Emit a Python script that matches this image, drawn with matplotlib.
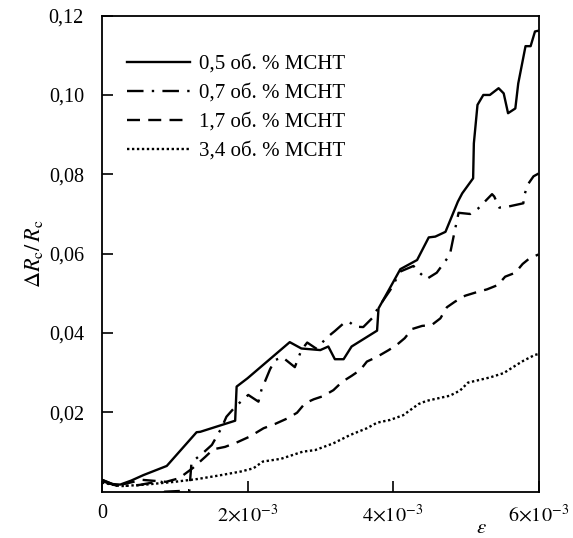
import matplotlib.pyplot as plt
import numpy as np

plt.rcParams['font.family'] = ['Liberation Serif', 'DejaVu Serif']
plt.rcParams['mathtext.fontset'] = 'stix'

# strain values (x 1e-3) and relative resistance change (x 1e-3)
eps_05 = [0, 0.1, 0.25, 0.4, 0.57, 0.89, 1.30, 1.35, 1.83, 1.85, 2.0, 2.58, 2.74, 3.0, 3.11, 3.2,
          3.32, 3.43, 3.78, 3.80, 3.94, 4.1, 4.33, 4.49, 4.58, 4.72, 4.89, 4.95, 5.10, 5.11,
          5.16, 5.24, 5.33, 5.45, 5.52, 5.58, 5.68, 5.72, 5.82, 5.89, 5.95, 6.0]
dr_05 = [2.8, 2.0, 1.8, 2.8, 4.2, 6.5, 15.0, 15.1, 17.9, 26.5, 28.6, 37.7, 36.1, 35.7, 36.6, 33.4,
         33.4, 36.6, 40.6, 46.2, 50.8, 56.1, 58.4, 64.1, 64.3, 65.5, 73.1, 75.2, 79.0, 87.8,
         97.5, 100.0, 100.0, 101.7, 100.4, 95.4, 96.6, 102.9, 112.3, 112.3, 116.0, 116.2]

eps_07 = [0, 0.2, 0.45, 0.75, 0.82, 0.85, 1.2, 1.23, 1.39, 1.51, 1.64, 1.71, 1.83, 2.01, 2.15,
          2.19, 2.31, 2.38, 2.48, 2.65, 2.74, 2.82, 2.95, 3.08, 3.20, 3.33, 3.39, 3.48, 3.59,
          3.71, 3.80, 3.96, 4.10, 4.28, 4.37, 4.46, 4.60, 4.78, 4.84, 4.90, 5.06, 5.17, 5.36,
          5.39, 5.46, 5.59, 5.79, 5.80, 5.85, 5.93, 6.0]
dr_07 = [3.0, 1.5, 1.5, 2.5, 2.5, 0.0, 0.3, 7.4, 9.8, 11.8, 16.0, 18.9, 21.4, 24.4, 22.7,
         25.6, 30.9, 33.2, 33.9, 31.4, 35.7, 37.6, 36.0, 38.7, 40.5, 42.6, 42.9, 41.6, 41.5,
         43.7, 46.5, 50.8, 55.5, 56.9, 55.1, 53.6, 55.2, 59.7, 65.1, 70.3, 70.0, 71.4, 75.0,
         74.4, 71.6, 71.9, 72.7, 74.5, 77.4, 79.5, 80.2]

eps_17 = [0, 0.2, 0.55, 0.88, 1.06, 1.25, 1.42, 1.53, 1.69, 1.85, 2.03, 2.22, 2.38, 2.55, 2.68,
          2.79, 2.91, 3.04, 3.18, 3.30, 3.43, 3.55, 3.64, 3.78, 3.94, 4.05, 4.16, 4.26, 4.40,
          4.53, 4.65, 4.74, 4.85, 4.99, 5.15, 5.29, 5.44, 5.54, 5.68, 5.78, 5.88, 6.0]
dr_17 = [3.0, 1.5, 3.0, 2.5, 3.4, 6.0, 8.8, 10.7, 11.3, 12.4, 13.9, 16.0, 17.1, 18.5, 19.9,
         22.3, 23.3, 24.1, 25.6, 27.7, 29.2, 30.7, 32.8, 34.0, 35.7, 37.0, 38.7, 41.0, 41.8,
         42.0, 43.7, 46.5, 47.9, 49.4, 50.3, 51.0, 52.1, 54.2, 55.2, 57.4, 58.9, 59.8]

eps_34 = [0, 0.25, 0.6, 1.0, 1.31, 1.61, 1.91, 2.08, 2.21, 2.46, 2.76, 2.93, 3.18, 3.41, 3.64,
          3.78, 3.96, 4.14, 4.35, 4.46, 4.78, 4.92, 5.03, 5.33, 5.52, 5.70, 5.79, 5.95, 6.0]
dr_34 = [2.3, 1.4, 1.8, 2.5, 3.2, 4.1, 5.1, 5.9, 7.6, 8.3, 10.1, 10.5, 12.2, 14.3, 16.0,
         17.4, 18.1, 19.3, 22.1, 22.9, 24.2, 25.5, 27.5, 28.8, 29.9, 32.0, 33.0, 34.5, 34.7]

labels = ['0,5 об. % МСНТ', '0,7 об. % МСНТ', '1,7 об. % МСНТ', '3,4 об. % МСНТ']

x_ticks = [0, 2e-3, 4e-3, 6e-3]
x_ticklabels = ['0', r'$2{\times}10^{-3}$', r'$4{\times}10^{-3}$', r'$6{\times}10^{-3}$']
y_ticks = [0.02, 0.04, 0.06, 0.08, 0.10, 0.12]
y_ticklabels = ['0,02', '0,04', '0,06', '0,08', '0,10', '0,12']

fig = plt.figure(figsize=(5.73, 5.38), dpi=100)
ax = fig.add_axes([0.178, 0.086, 0.762, 0.885])

lw = 1.7
ax.plot(np.array(eps_05) * 1e-3, np.array(dr_05) * 1e-3, color='black', lw=lw,
        linestyle='-', label=labels[0])
ax.plot(np.array(eps_07) * 1e-3, np.array(dr_07) * 1e-3, color='black', lw=lw,
        linestyle=(0, (7, 3.5, 1, 3.5)), label=labels[1])
ax.plot(np.array(eps_17) * 1e-3, np.array(dr_17) * 1e-3, color='black', lw=lw,
        linestyle=(0, (5.5, 3.5)), label=labels[2])
ax.plot(np.array(eps_34) * 1e-3, np.array(dr_34) * 1e-3, color='black', lw=lw,
        linestyle=(0, (1, 1.1)), label=labels[3])

ax.set_xlim(0, 6e-3)
ax.set_ylim(0, 0.12)
ax.set_xticks(x_ticks)
ax.set_xticklabels(x_ticklabels)
ax.set_yticks(y_ticks)
ax.set_yticklabels(y_ticklabels)
ax.tick_params(direction='in', length=8, width=1.2, labelsize=14.5, top=False, right=False)
ax.tick_params(axis='x', pad=9)
ax.tick_params(axis='y', pad=13)
for s in ax.spines.values():
    s.set_linewidth(1.3)

ax.set_ylabel(r'$\Delta R_{\mathrm{c}}/\,R_{\mathrm{c}}$', fontsize=16, labelpad=3)
ax.text(0.87, -0.077, r'$\varepsilon$', transform=ax.transAxes, fontsize=15,
        ha='center', va='center')

ax.legend(loc='upper left', bbox_to_anchor=(0.015, 0.958), frameon=False, fontsize=15,
          handlelength=3.0, handletextpad=0.45, labelspacing=0.45)

plt.savefig('out.png', dpi=100)
